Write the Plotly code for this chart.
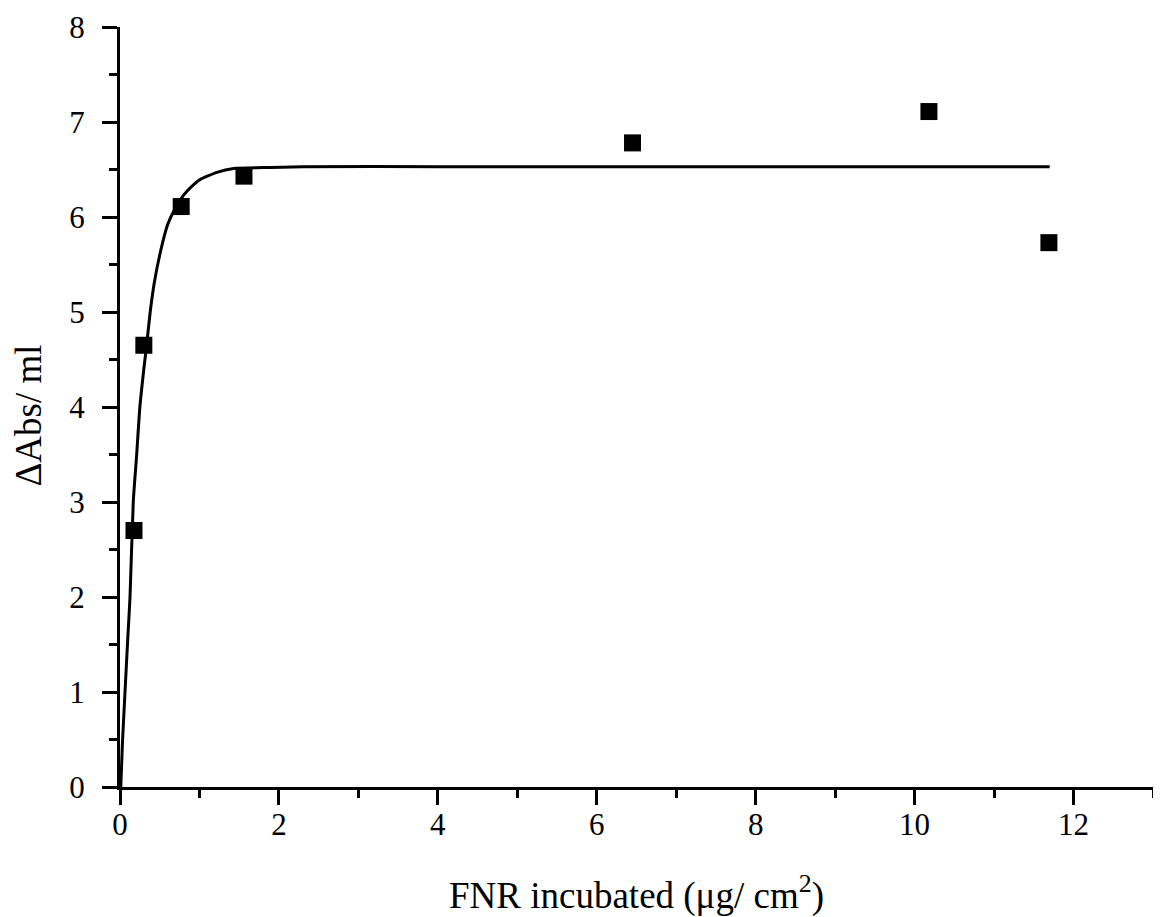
import plotly.graph_objects as go

# Measured data points
fnr_x = [0.176, 0.30, 0.77, 1.56, 6.45, 10.18, 11.69]
abs_y = [2.70, 4.65, 6.11, 6.43, 6.78, 7.11, 5.73]

# Fitted curve
curve_x = [0.01, 0.03, 0.063, 0.10, 0.126, 0.167, 0.21, 0.25, 0.30, 0.335, 0.38, 0.43,
           0.50, 0.60, 0.70, 0.80, 0.90, 1.0, 1.22, 1.43, 1.8, 2.3, 4.0, 8.0, 11.7]
curve_y = [0.0, 0.45, 1.0, 1.6, 2.0, 3.0, 3.5, 4.0, 4.4, 4.65, 5.0, 5.3,
           5.6, 5.92, 6.1, 6.23, 6.32, 6.39, 6.47, 6.51, 6.52, 6.53, 6.53, 6.53, 6.53]

x_ticks = [0, 2, 4, 6, 8, 10, 12]
y_ticks = [0, 1, 2, 3, 4, 5, 6, 7, 8]

x_title = "FNR incubated (μg/ cm<sup>2</sup>)"
y_title = "ΔAbs/ ml"

FONT = "Liberation Serif, Times New Roman, serif"

fig = go.Figure()
fig.add_trace(go.Scatter(x=curve_x, y=curve_y, mode="lines",
                         line=dict(color="black", width=3, shape="spline", smoothing=0.6),
                         showlegend=False))
fig.add_trace(go.Scatter(x=fnr_x, y=abs_y, mode="markers",
                         marker=dict(symbol="square", size=17, color="black"),
                         showlegend=False))

axis_common = dict(
    showline=True, linecolor="black", linewidth=3,
    ticks="outside", tickcolor="black", tickwidth=3, ticklen=15,
    showgrid=False, zeroline=False, automargin=False,
    tickfont=dict(family=FONT, size=31, color="black"),
)

fig.update_xaxes(range=[0, 13], tickvals=x_ticks, ticklabelstandoff=-7,
                 minor=dict(dtick=1, ticks="outside", ticklen=8, tickwidth=3, tickcolor="black"),
                 **axis_common)
fig.update_yaxes(range=[0, 8], tickvals=y_ticks, ticklabelstandoff=11,
                 minor=dict(dtick=0.5, ticks="outside", ticklen=8, tickwidth=3, tickcolor="black"),
                 **axis_common)

fig.add_annotation(text=x_title, xref="paper", yref="paper", x=0.5, y=-0.139,
                   xanchor="center", yanchor="middle", showarrow=False,
                   font=dict(family=FONT, size=37, color="black"))
fig.add_annotation(text=y_title, xref="paper", yref="paper", x=-0.089, y=0.489,
                   xanchor="center", yanchor="middle", textangle=-90, showarrow=False,
                   font=dict(family=FONT, size=37, color="black"))

# page body has an 8px margin, so the figure is sized to fit the window
fig.update_layout(
    width=1153, height=909,
    margin=dict(l=112, r=8, t=19, b=130),
    plot_bgcolor="white", paper_bgcolor="white",
)

fig.write_html("out.html")
